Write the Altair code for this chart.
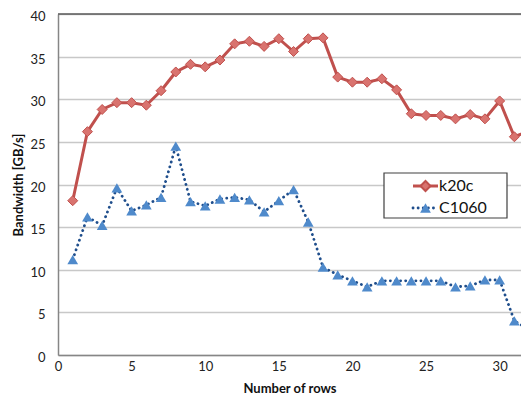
import altair as alt
import pandas as pd

rows = list(range(1, 33))
k20c = [18.1, 26.2, 28.8, 29.6, 29.6, 29.3, 31.0, 33.2, 34.1, 33.8, 34.6, 36.5,
        36.8, 36.2, 37.1, 35.6, 37.1, 37.2, 32.6, 32.0, 32.0, 32.4, 31.1, 28.3,
        28.1, 28.1, 27.7, 28.2, 27.7, 29.8, 25.6, 26.3]
c1060 = [11.2, 16.2, 15.2, 19.6, 16.9, 17.6, 18.5, 24.5, 18.0, 17.5, 18.3, 18.5,
         18.2, 16.8, 18.1, 19.4, 15.6, 10.3, 9.4, 8.7, 8.0, 8.7, 8.7, 8.7,
         8.7, 8.7, 8.0, 8.1, 8.8, 8.8, 4.0, 3.0]
x_ticks = [0, 5, 10, 15, 20, 25, 30]
y_ticks = [0, 5, 10, 15, 20, 25, 30, 35, 40]
series_names = ["k20c", "C1060"]

RED = "#C0504D"
RED_FILL = "#D9736F"
BLUE_LINE = "#1F4E8C"
BLUE_FILL = "#4F8ACB"
FONT = "Lato"

W, H = 463, 341
XMAX = 31.45

df_k = pd.DataFrame({"x": rows, "y": k20c})
df_c = pd.DataFrame({"x": rows, "y": c1060})

xs = alt.Scale(domain=[0, XMAX], nice=False, zero=True)
ys = alt.Scale(domain=[0, 40], nice=False)

xenc = alt.X("x:Q", scale=xs, axis=alt.Axis(
    title="Number of rows", values=x_ticks, grid=False, ticks=False,
    domainColor="#868686", domainWidth=1.5, labelFont=FONT, labelFontSize=13,
    labelColor="#222222", labelPadding=5, titleFont=FONT, titleFontSize=13,
    titleFontWeight="bold", titleColor="#111111", titlePadding=9, labelFlush=False))
yenc = alt.Y("y:Q", scale=ys, axis=alt.Axis(
    title="Bandwidth [GB/s]", values=y_ticks, grid=True, gridColor="#C8C8C8",
    gridWidth=1.5, ticks=False, domainColor="#868686", domainWidth=1.5,
    labelFont=FONT, labelFontSize=13, labelColor="#222222", labelPadding=13,
    labelOffset=2.5, labelFlush=False,
    titleFont=FONT, titleFontSize=13, titleFontWeight="bold",
    titleColor="#111111", titlePadding=4))

top_border = alt.Chart(pd.DataFrame({"y": [40]})).mark_rule(
    color="#595959", strokeWidth=1.5).encode(y=alt.Y("y:Q", scale=ys))

line_k = alt.Chart(df_k).mark_line(color=RED, strokeWidth=3, clip=True).encode(x=xenc, y=yenc)
pts_k = alt.Chart(df_k).mark_point(shape="diamond", filled=True, fill=RED_FILL,
                                   stroke=RED, strokeWidth=1, size=100, opacity=1,
                                   clip=True).encode(x=xenc, y=yenc)
line_c = alt.Chart(df_c).mark_line(color=BLUE_LINE, strokeWidth=2.8,
                                   strokeDash=[0.1, 5], strokeCap="round",
                                   clip=True).encode(x=xenc, y=yenc)
pts_c = alt.Chart(df_c).mark_point(shape="triangle-up", filled=True, fill=BLUE_FILL,
                                   size=115, opacity=1, clip=True).encode(x=xenc, y=yenc)

# legend (layout in pixels)
one = pd.DataFrame({"a": [0]})
box = alt.Chart(one).mark_rect(fill="white", stroke="#404040", strokeWidth=1.2).encode(
    x=alt.value(326), x2=alt.value(449), y=alt.value(159), y2=alt.value(204))
leg_line_k = alt.Chart(one).mark_rule(color=RED, strokeWidth=3).encode(
    x=alt.value(355), x2=alt.value(380), y=alt.value(172))
leg_pt_k = alt.Chart(one).mark_point(shape="diamond", filled=True, fill=RED_FILL,
                                     stroke=RED, size=100, opacity=1).encode(
    x=alt.value(367.5), y=alt.value(172))
leg_line_c = alt.Chart(one).mark_rule(color=BLUE_LINE, strokeWidth=2.8,
                                      strokeDash=[0.1, 5], strokeCap="round").encode(
    x=alt.value(355), x2=alt.value(380), y=alt.value(194))
leg_pt_c = alt.Chart(one).mark_point(shape="triangle-up", filled=True, fill=BLUE_FILL,
                                     size=115, opacity=1).encode(
    x=alt.value(367.5), y=alt.value(194))
leg_txt = alt.Chart(pd.DataFrame({"t": series_names, "yy": [172, 194]})).mark_text(
    align="left", baseline="middle", font=FONT, fontSize=16, color="#111111").encode(
    x=alt.value(381), y=alt.Y("yy:Q", scale=None), text="t:N")

chart = alt.layer(
    top_border, line_k, pts_k, line_c, pts_c,
    box, leg_line_k, leg_pt_k, leg_line_c, leg_pt_c, leg_txt
).properties(
    width=W, height=H,
    autosize=alt.AutoSizeParams(type="none"),
    padding={"left": 50, "top": 6, "right": 0, "bottom": 42},
).configure_view(stroke=None).configure(background="white")

chart.save("out.html", embed_options={"renderer": "svg", "actions": False})
